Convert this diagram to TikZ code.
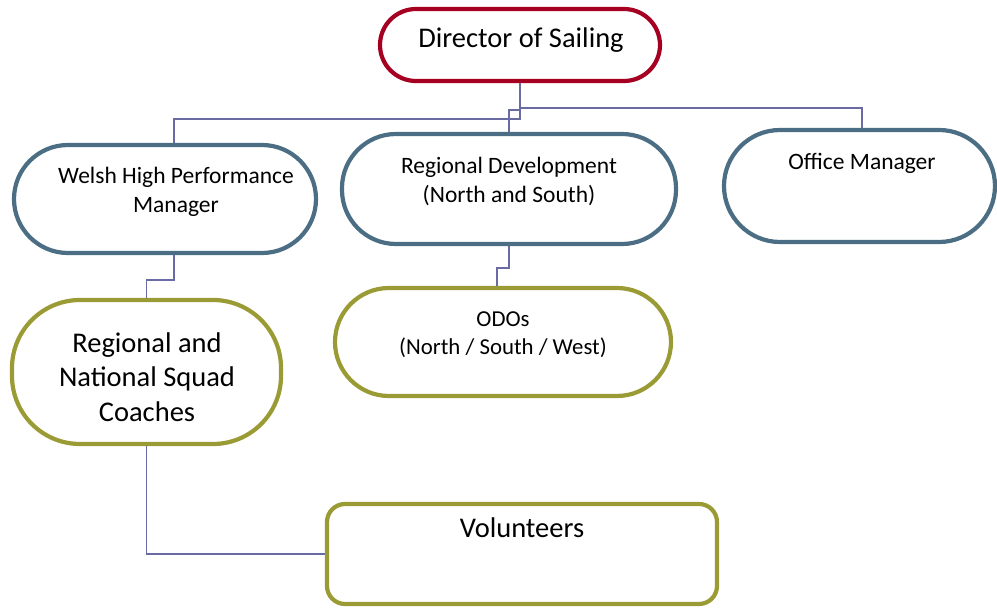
\documentclass[tikz,border=0pt]{standalone}
\usepackage{fontspec}
\setmainfont{Carlito}
\definecolor{dred}{HTML}{A50021}
\definecolor{sblue}{HTML}{4B6E84}
\definecolor{olive}{HTML}{9A9B34}
\definecolor{conncol}{HTML}{6B6BA3}
\begin{document}
\begin{tikzpicture}[x=1pt,y=1pt,
  box/.style={draw, line width=4.2pt, inner sep=0pt},
  redbox/.style={box, draw=dred, rounded corners=36pt},
  bluebox/.style={box, draw=sblue, rounded corners=54pt},
  olivebox/.style={box, draw=olive, rounded corners=68pt},
  volbox/.style={box, draw=olive, rounded corners=18pt},
  conn/.style={draw=conncol, line width=1.5pt},
  bigtxt/.style={font=\fontsize{28.5}{34.5}\selectfont, align=center, inner sep=0pt},
  midtxt/.style={font=\fontsize{23.5}{29}\selectfont, align=center, inner sep=0pt},
  smalltxt/.style={font=\fontsize{22.8}{28}\selectfont, align=center, inner sep=0pt}]
\useasboundingbox (0,0) rectangle (997,-609);
% boxes
\node[redbox, minimum width=280pt, minimum height=72pt] (dir) at (520,-45) {};
\node[bluebox, minimum width=302pt, minimum height=108pt] (welsh) at (165,-199) {};
\node[bluebox, minimum width=334pt, minimum height=110pt] (regdev) at (509,-189) {};
\node[bluebox, rounded corners=56pt, minimum width=271pt, minimum height=112pt] (office) at (859.5,-186) {};
\node[olivebox, minimum width=269pt, minimum height=144pt] (coaches) at (146.5,-372) {};
\node[bluebox, draw=olive, minimum width=336pt, minimum height=108pt] (odos) at (503,-342) {};
\node[volbox, minimum width=390pt, minimum height=100pt] (vol) at (522,-554) {};
% connectors
\draw[conn] (dir.south) -- ++(0,-36) -| ([xshift=9pt]welsh.north);
\draw[conn] (dir.south) -- ++(0,-27) -| (regdev.north);
\draw[conn] (dir.south) -- ++(0,-25) -| ([xshift=2.5pt]office.north);
\draw[conn] ([xshift=9pt]welsh.south) -- ++(0,-25) -| (coaches.north);
\draw[conn] (regdev.south) -- ++(0,-22) -| ([xshift=-6pt]odos.north);
\draw[conn] (coaches.south) |- (vol.west);
% texts
\node[bigtxt] (dirt) at (521,-40) {Director of Sailing};
\node[midtxt] (welsht) at (176,-191.5) {Welsh High Performance\\Manager};
\node[midtxt] (regdevt) at (509,-181) {Regional Development\\(North and South)};
\node[midtxt] (officet) at (862,-163) {Office Manager};
\node[bigtxt] (coachest) at (147,-377) {Regional and\\National Squad\\Coaches};
\node[smalltxt] (odost) at (503,-335) {ODOs\\(North / South / West)};
\node[bigtxt] (volt) at (522,-528) {Volunteers};
\end{tikzpicture}
\end{document}
